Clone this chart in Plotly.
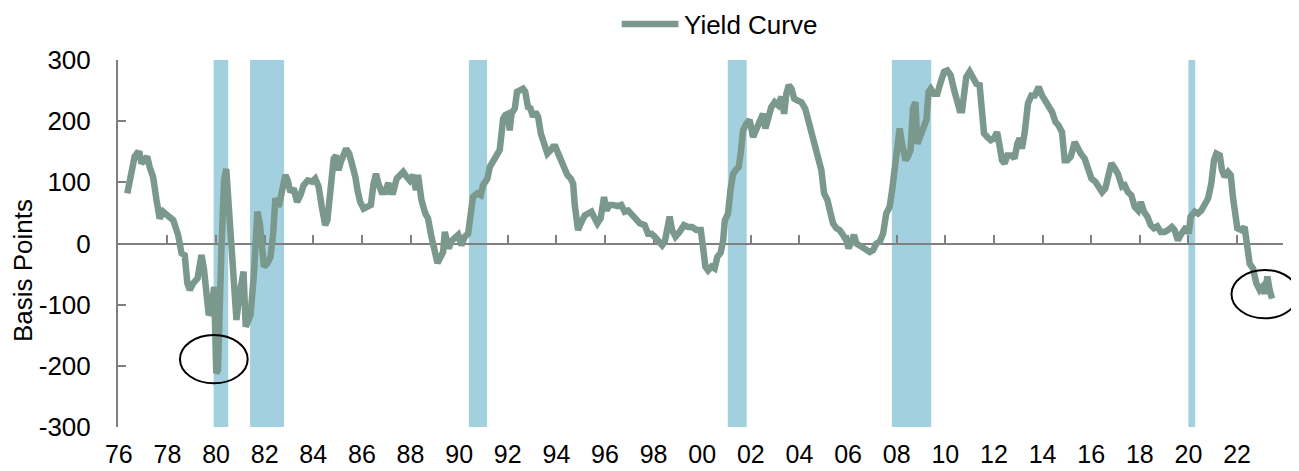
import plotly.graph_objects as go

# ---- data ----
years = [
    1976.35, 1976.45, 1976.54, 1976.65, 1976.76, 1976.86, 1976.93, 1977.04, 1977.17, 1977.27,
    1977.41, 1977.55, 1977.68, 1977.82, 1978.03, 1978.24, 1978.44, 1978.58, 1978.71, 1978.82,
    1978.92, 1979.06, 1979.24, 1979.40, 1979.50, 1979.61, 1979.70, 1979.81, 1979.92, 1980.01,
    1980.08, 1980.22, 1980.33, 1980.42, 1980.51, 1980.61, 1980.75, 1980.84, 1980.95, 1981.04,
    1981.13, 1981.22, 1981.31, 1981.42, 1981.56, 1981.70, 1981.80, 1981.90, 1981.97, 1982.10,
    1982.24, 1982.35, 1982.44, 1982.58, 1982.72, 1982.85, 1982.95, 1983.06, 1983.20, 1983.33,
    1983.47, 1983.60, 1983.77, 1983.95, 1984.08, 1984.22, 1984.35, 1984.49, 1984.58, 1984.69,
    1984.84, 1984.94, 1985.04, 1985.13, 1985.24, 1985.35, 1985.48, 1985.59, 1985.73, 1985.82,
    1985.93, 1986.07, 1986.20, 1986.37, 1986.48, 1986.58, 1986.68, 1986.81, 1986.95, 1987.09,
    1987.18, 1987.29, 1987.43, 1987.59, 1987.70, 1987.84, 1987.97, 1988.11, 1988.22, 1988.31,
    1988.45, 1988.61, 1988.72, 1988.86, 1989.00, 1989.11, 1989.24, 1989.34, 1989.41, 1989.48,
    1989.57, 1989.68, 1989.82, 1989.96, 1990.09, 1990.23, 1990.37, 1990.48, 1990.57, 1990.75,
    1990.89, 1990.98, 1991.16, 1991.26, 1991.40, 1991.53, 1991.67, 1991.81, 1991.90, 1992.01,
    1992.08, 1992.15, 1992.29, 1992.38, 1992.49, 1992.63, 1992.72, 1992.83, 1992.93, 1993.04,
    1993.14, 1993.25, 1993.36, 1993.49, 1993.63, 1993.77, 1993.86, 1993.96, 1994.07, 1994.21,
    1994.32, 1994.45, 1994.59, 1994.69, 1994.75, 1994.82, 1994.89, 1995.03, 1995.17, 1995.30,
    1995.44, 1995.58, 1995.69, 1995.82, 1995.96, 1996.06, 1996.19, 1996.33, 1996.51, 1996.67,
    1996.81, 1996.95, 1997.09, 1997.25, 1997.43, 1997.63, 1997.77, 1997.91, 1998.05, 1998.18,
    1998.35, 1998.46, 1998.57, 1998.66, 1998.76, 1998.90, 1999.07, 1999.25, 1999.42, 1999.58,
    1999.76, 1999.94, 2000.03, 2000.13, 2000.24, 2000.38, 2000.51, 2000.62, 2000.76, 2000.86,
    2000.93, 2001.06, 2001.16, 2001.27, 2001.40, 2001.50, 2001.58, 2001.68, 2001.82, 2001.95,
    2002.09, 2002.23, 2002.37, 2002.50, 2002.60, 2002.71, 2002.84, 2002.98, 2003.12, 2003.26,
    2003.37, 2003.46, 2003.56, 2003.67, 2003.78, 2003.91, 2004.08, 2004.24, 2004.35, 2004.49,
    2004.63, 2004.76, 2004.90, 2005.01, 2005.15, 2005.28, 2005.38, 2005.52, 2005.65, 2005.79,
    2005.93, 2006.02, 2006.13, 2006.24, 2006.34, 2006.48, 2006.61, 2006.75, 2006.89, 2007.03,
    2007.16, 2007.30, 2007.44, 2007.57, 2007.71, 2007.81, 2007.92, 2008.03, 2008.12, 2008.22,
    2008.36, 2008.46, 2008.57, 2008.67, 2008.77, 2008.85, 2008.94, 2009.08, 2009.22, 2009.31,
    2009.40, 2009.53, 2009.67, 2009.81, 2009.95, 2010.08, 2010.22, 2010.36, 2010.49, 2010.59,
    2010.69, 2010.77, 2010.86, 2011.00, 2011.14, 2011.28, 2011.41, 2011.48, 2011.59, 2011.73,
    2011.87, 2012.00, 2012.13, 2012.24, 2012.33, 2012.44, 2012.55, 2012.72, 2012.85, 2012.96,
    2013.06, 2013.15, 2013.26, 2013.40, 2013.54, 2013.68, 2013.84, 2013.98, 2014.11, 2014.25,
    2014.39, 2014.53, 2014.66, 2014.80, 2014.91, 2015.02, 2015.16, 2015.32, 2015.43, 2015.57,
    2015.73, 2015.87, 2016.01, 2016.17, 2016.31, 2016.45, 2016.58, 2016.72, 2016.83, 2016.97,
    2017.10, 2017.27, 2017.38, 2017.51, 2017.65, 2017.79, 2017.93, 2018.04, 2018.17, 2018.31,
    2018.45, 2018.58, 2018.72, 2018.86, 2019.02, 2019.16, 2019.32, 2019.43, 2019.57, 2019.68,
    2019.82, 2019.91, 2020.01, 2020.09, 2020.26, 2020.39, 2020.53, 2020.67, 2020.81, 2020.94,
    2021.05, 2021.15, 2021.29, 2021.38, 2021.49, 2021.63, 2021.74, 2021.83, 2021.93, 2022.01,
    2022.18, 2022.31, 2022.42, 2022.52, 2022.66, 2022.79, 2022.93, 2023.04, 2023.14, 2023.25,
    2023.34, 2023.44,
]
yield_curve_bp = [
    82, 101, 114, 142, 148, 147, 131, 135, 142, 125,
    109, 71, 41, 52, 46, 38, 14, -16, -19, -65,
    -76, -65, -57, -19, -41, -76, -117, -109, -71, -212,
    -207, -11, 103, 122, 71, -5, -60, -125, -87, -60,
    -46, -136, -125, -117, -49, 52, 33, -11, -38, -33,
    -22, 16, 74, 60, 82, 112, 103, 84, 90, 68,
    79, 95, 103, 101, 106, 93, 60, 30, 38, 87,
    139, 144, 120, 133, 147, 155, 147, 131, 109, 87,
    68, 57, 60, 63, 98, 114, 98, 84, 84, 99,
    84, 84, 106, 114, 117, 109, 103, 112, 87, 112,
    71, 49, 41, 11, -14, -32, -22, -14, 19, 0,
    -8, 4, 8, 14, -3, 11, 16, 49, 76, 82,
    79, 95, 106, 125, 133, 142, 153, 204, 210, 212,
    185, 212, 221, 248, 251, 253, 248, 223, 221, 207,
    215, 207, 180, 166, 147, 153, 158, 158, 147, 136,
    120, 112, 106, 98, 65, 25, 22, 35, 46, 49,
    52, 41, 33, 41, 76, 54, 63, 63, 61, 63,
    52, 54, 46, 41, 33, 30, 16, 16, 11, 5,
    -3, 3, 22, 44, 22, 11, 19, 30, 27, 27,
    22, 22, -5, -38, -44, -38, -41, -22, -15, 5,
    38, 49, 87, 114, 121, 125, 147, 185, 196, 202,
    174, 188, 202, 212, 188, 207, 223, 231, 226, 240,
    212, 245, 259, 253, 237, 234, 231, 220, 204, 185,
    163, 147, 120, 82, 71, 49, 33, 25, 22, 14,
    5, -8, 8, 14, 0, -3, -5, -11, -14, -11,
    0, 3, 16, 49, 60, 87, 125, 180, 188, 163,
    136, 142, 153, 221, 231, 163, 174, 188, 202, 248,
    253, 245, 245, 264, 281, 283, 275, 251, 229, 218,
    218, 240, 272, 281, 272, 261, 259, 218, 180, 174,
    169, 172, 182, 158, 136, 131, 144, 144, 139, 163,
    172, 155, 180, 229, 242, 242, 256, 242, 234, 226,
    215, 199, 193, 182, 136, 136, 142, 166, 155, 147,
    139, 125, 106, 101, 93, 84, 90, 114, 131, 123,
    114, 93, 95, 84, 79, 60, 54, 68, 52, 44,
    30, 25, 28, 19, 19, 22, 27, 22, 5, 14,
    25, 27, 16, 44, 52, 49, 54, 65, 74, 98,
    136, 147, 144, 120, 109, 117, 112, 76, 54, 25,
    22, 27, -5, -33, -41, -65, -76, -71, -82, -54,
    -76, -90,
]

# Recession bands (start, end) in decimal years
recession_start = [1979.9, 1981.4, 1990.4, 2001.05, 2007.8, 2020.0]
recession_end = [1980.5, 1982.8, 1991.15, 2001.83, 2009.42, 2020.28]

tick_years = list(range(1976, 2023, 2))
tick_labels = [f"{y % 100:02d}" for y in tick_years]
y_ticks = [-300, -200, -100, 0, 100, 200, 300]
y_tick_labels = ["-300", "-200", "-100", "0", "100", "200", "300"]

LINE_COLOR = "#7a988c"
BAND_COLOR = "#a2d0de"
AXIS_COLOR = "#808080"
FONT = "Liberation Sans, Arial, sans-serif"
FS = 26
X_RANGE = [1975.967, 2023.89]

fig = go.Figure()

fig.add_trace(go.Scatter(
    x=years, y=yield_curve_bp, mode="lines", name="Yield Curve",
    line=dict(color=LINE_COLOR, width=6.5), showlegend=False,
))
# dummy trace to register the zero-line axis
fig.add_trace(go.Scatter(x=[X_RANGE[0]], y=[None], xaxis="x2", yaxis="y",
                         showlegend=False, hoverinfo="skip"))

shapes = []
for s, e in zip(recession_start, recession_end):
    shapes.append(dict(type="rect", xref="x", yref="y", x0=s, x1=e, y0=-300, y1=300,
                       fillcolor=BAND_COLOR, line=dict(width=0), layer="below"))

# highlight ellipses (annotation marks)
shapes.append(dict(type="circle", xref="paper", yref="paper",
                   x0=0.0532, x1=0.1113, y0=0.119, y1=0.2507,
                   line=dict(color="black", width=2)))
shapes.append(dict(type="circle", xref="paper", yref="paper",
                   x0=0.9558, x1=1.0129, y0=0.2962, y1=0.4278,
                   line=dict(color="black", width=2)))
# legend sample line
shapes.append(dict(type="line", xref="paper", yref="paper",
                   x0=0.4324, x1=0.481, y0=1.0981, y1=1.0981,
                   line=dict(color=LINE_COLOR, width=6.5)))

# page body has an 8px margin, so the figure is sized/offset to compensate
fig.update_layout(
    width=1291, height=463,
    margin=dict(l=110, r=16, t=52, b=44),
    paper_bgcolor="white", plot_bgcolor="white",
    font=dict(family=FONT, size=FS, color="black"),
    shapes=shapes,
    xaxis=dict(range=X_RANGE, tickmode="array", tickvals=tick_years, ticktext=tick_labels,
               ticks="", showline=False, showgrid=False, zeroline=False, automargin=False,
               ticklabelstandoff=10, tickfont=dict(size=25)),
    xaxis2=dict(range=X_RANGE, overlaying="x", anchor="free", position=0.5, side="top",
                tickmode="array", tickvals=tick_years[1:], ticks="outside", ticklen=8,
                tickwidth=2, tickcolor=AXIS_COLOR, showline=True, linecolor=AXIS_COLOR,
                linewidth=2, showticklabels=False, showgrid=False, zeroline=False,
                automargin=False, layer="below traces"),
    yaxis=dict(range=[-300, 300], tickmode="array", tickvals=y_ticks, ticktext=y_tick_labels,
               ticks="inside", ticklen=8, tickwidth=2, tickcolor=AXIS_COLOR, showline=True,
               linecolor=AXIS_COLOR, linewidth=2, showgrid=False, zeroline=False,
               automargin=False, ticklabelstandoff=20, tickfont=dict(size=FS)),
    annotations=[
        dict(text="Yield Curve", xref="paper", yref="paper", x=0.4847, y=1.1403,
             xanchor="left", yanchor="top", showarrow=False, borderpad=0,
             font=dict(family=FONT, size=FS, color="black")),
        dict(text="Basis Points", xref="paper", yref="paper", x=-0.0815, y=0.425,
             xanchor="center", yanchor="middle", textangle=-90, showarrow=False,
             font=dict(family=FONT, size=FS, color="black")),
    ],
)

fig.write_html("out.html")
